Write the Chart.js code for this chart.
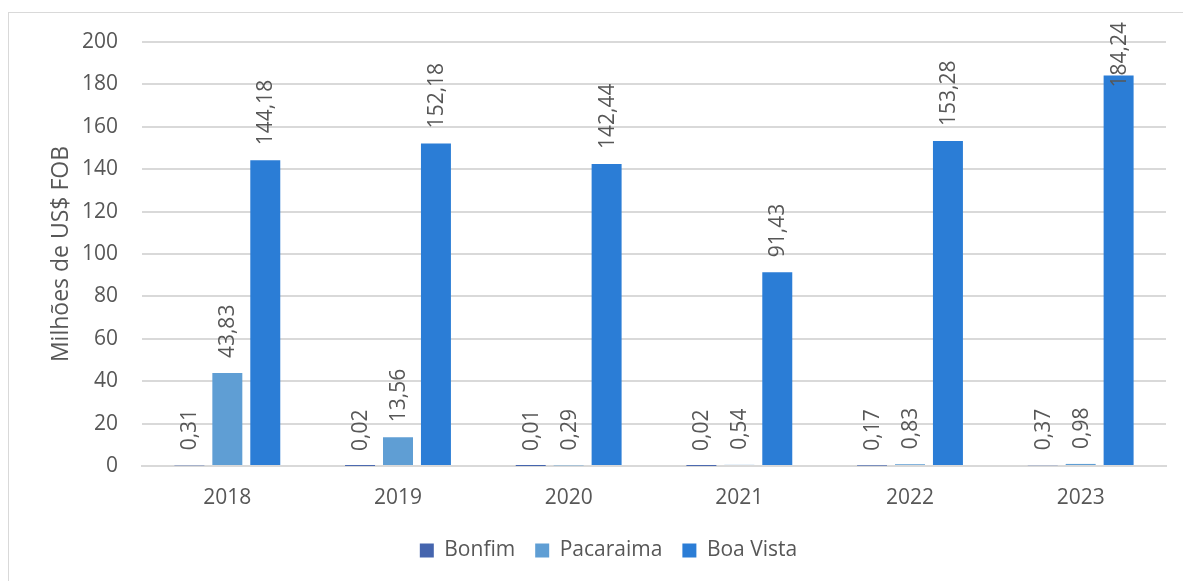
<!DOCTYPE html>
<html>
<head>
<meta charset="utf-8">
<title>Milhões de US$ FOB</title>
<script src="https://cdn.jsdelivr.net/npm/chart.js@4.4.1/dist/chart.umd.min.js"></script>
<style>
  html, body { margin: 0; padding: 0; background: #fff; overflow: hidden; }
  #frame {
    position: absolute; left: 8px; top: 12px;
    width: 1174px; height: 568px;
    border-left: 1px solid #d9d9d9; border-top: 1px solid #d9d9d9;
  }
</style>
</head>
<body>
<div id="frame"><canvas id="chart"></canvas></div>
<script>
// data
const years = ['2018', '2019', '2020', '2021', '2022', '2023'];
const bonfim = [0.31, 0.02, 0.01, 0.02, 0.17, 0.37];
const pacaraima = [43.83, 13.56, 0.29, 0.54, 0.83, 0.98];
const boaVista = [144.18, 152.18, 142.44, 91.43, 153.28, 184.24];

const textColor = '#575757';
const gridColor = '#d9d9d9';
const fontFamily = '"Open Sans", "Noto Sans", sans-serif';

// rotated value labels above each bar
const valueLabels = {
  id: 'valueLabels',
  afterDatasetsDraw(chart) {
    const ctx = chart.ctx;
    ctx.save();
    ctx.font = '21px ' + fontFamily;
    ctx.fillStyle = textColor;
    chart.data.datasets.forEach((ds, i) => {
      const meta = chart.getDatasetMeta(i);
      meta.data.forEach((bar, j) => {
        const txt = ds.data[j].toFixed(2).replace('.', ',');
        const w = ctx.measureText(txt).width;
        let y = bar.y - 15;
        if (y - w < 9) y = 9 + w;
        ctx.save();
        ctx.translate(bar.x, y);
        ctx.rotate(-Math.PI / 2);
        ctx.textAlign = 'left';
        ctx.textBaseline = 'middle';
        ctx.fillText(txt, 0, 1);
        ctx.restore();
      });
    });
    ctx.restore();
  }
};

new Chart(document.getElementById('chart'), {
  type: 'bar',
  data: {
    labels: years,
    datasets: [
      { label: 'Bonfim', data: bonfim, backgroundColor: '#4565ae' },
      { label: 'Pacaraima', data: pacaraima, backgroundColor: '#5f9ed4' },
      { label: 'Boa Vista', data: boaVista, backgroundColor: '#2b7dd6' }
    ]
  },
  options: {
    responsive: true,
    maintainAspectRatio: false,
    animation: false,
    datasets: { bar: { categoryPercentage: 0.667, barPercentage: 0.79 } },
    layout: { padding: { left: 42, right: 17, top: 29, bottom: 10 } },
    plugins: {
      tooltip: { enabled: false },
      legend: {
        position: 'bottom',
        labels: {
          color: textColor,
          font: { family: fontFamily, size: 21 },
          boxWidth: 14,
          boxHeight: 14,
          padding: 20
        }
      }
    },
    scales: {
      x: {
        grid: { display: false, drawTicks: false },
        border: { display: true, color: gridColor, width: 2 },
        ticks: { color: textColor, font: { family: fontFamily, size: 21 }, padding: 19 },
        afterFit(scale) { scale.height = 54; }
      },
      y: {
        min: 0,
        max: 200,
        ticks: { stepSize: 20, color: textColor, font: { family: fontFamily, size: 21 }, padding: 24 },
        grid: { color: gridColor, lineWidth: 2, drawTicks: false },
        border: { display: false },
        title: {
          display: true,
          text: 'Milhões de US$ FOB',
          color: textColor,
          font: { family: fontFamily, size: 23 },
          padding: { top: -3, bottom: 0 }
        },
        afterFit(scale) {
          scale.width = 91;
          scale.paddingTop = 0;
          scale.paddingBottom = 0;
        }
      }
    }
  },
  plugins: [valueLabels]
});
</script>
</body>
</html>
